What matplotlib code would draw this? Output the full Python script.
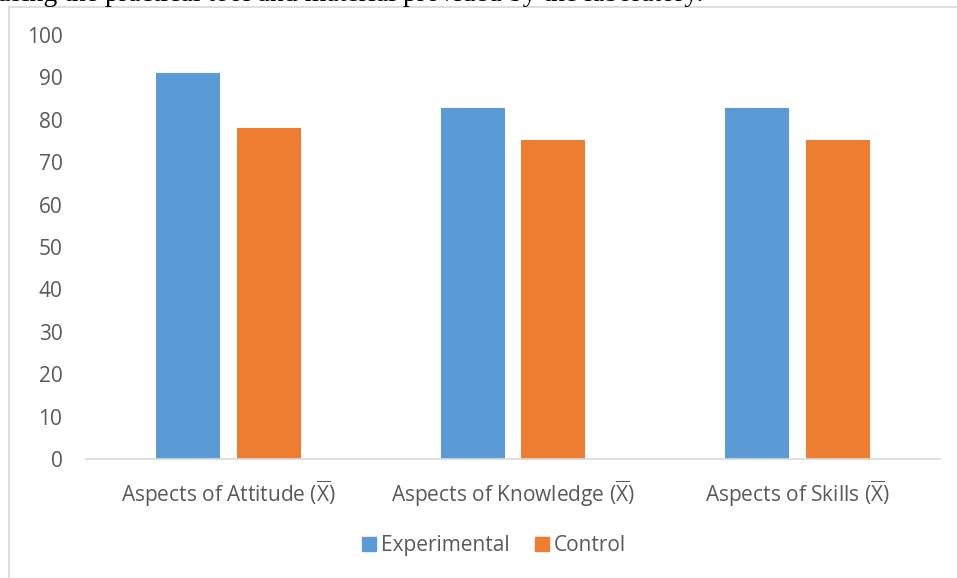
import numpy as np
import matplotlib.pyplot as plt
from matplotlib.patches import Rectangle

plt.rcParams['font.family'] = ['Open Sans', 'DejaVu Sans']
plt.rcParams['mathtext.fontset'] = 'custom'
plt.rcParams['mathtext.rm'] = 'Open Sans'

# Mean scores per aspect
xbar = r'($\overline{\mathrm{X}}$)'
categories = ['Aspects of Attitude ' + xbar, 'Aspects of Knowledge ' + xbar, 'Aspects of Skills ' + xbar]
experimental = [91.0, 82.7, 82.9]
control = [78.0, 75.3, 75.2]
yticks = [0, 10, 20, 30, 40, 50, 60, 70, 80, 90, 100]
series_names = ['Experimental', 'Control']

blue = '#5b9bd5'
orange = '#ed7d31'
grey_text = '#595959'

W, H = 957, 578
fig = plt.figure(figsize=(W / 100, H / 100), dpi=100)
ax = fig.add_axes([86 / W, 119 / H, 854 / W, 424 / H])

x = np.arange(len(categories))
w = 0.225
off = 0.142
ax.bar(x - off, experimental, w, color=blue, label=series_names[0])
ax.bar(x + off, control, w, color=orange, label=series_names[1])

ax.set_xlim(-0.5, 2.5)
ax.set_ylim(0, 100)
ax.set_yticks(yticks)
ax.set_xticks(x)
ax.set_xticklabels(categories)
ax.tick_params(axis='both', length=0, labelsize=15, colors=grey_text)
ax.tick_params(axis='x', pad=14)
ax.tick_params(axis='y', pad=17)

for s in ['top', 'right', 'left']:
    ax.spines[s].set_visible(False)
ax.spines['bottom'].set_color('#d9d9d9')
ax.spines['bottom'].set_linewidth(1.2)

# legend row under the chart: square swatch + label, on a common baseline
legend_x = [362, 535]
for name, col, lx in zip(series_names, [blue, orange], legend_x):
    fig.patches.append(Rectangle((lx / W, 1 - 551 / H), 14 / W, 14 / H,
                                 transform=fig.transFigure, color=col))
    fig.text((lx + 19) / W, 1 - 551 / H, name, fontsize=15, color=grey_text,
             va='baseline', ha='left')

# chart frame, partly outside the page
fig.patches.append(Rectangle((9 / W, -0.1), 1.2, 1 - 7 / H + 0.1,
                             transform=fig.transFigure, fill=False,
                             edgecolor='#d9d9d9', linewidth=1.2))

# body text line above the chart, cut off by the page edge
fig.text(-3 / W, 1 - 1 / H, 'using the practical tool and material provided by the laboratory.',
         family='Liberation Serif', fontsize=20, color='black', va='baseline', ha='left')

fig.savefig('out.png', dpi=100)
